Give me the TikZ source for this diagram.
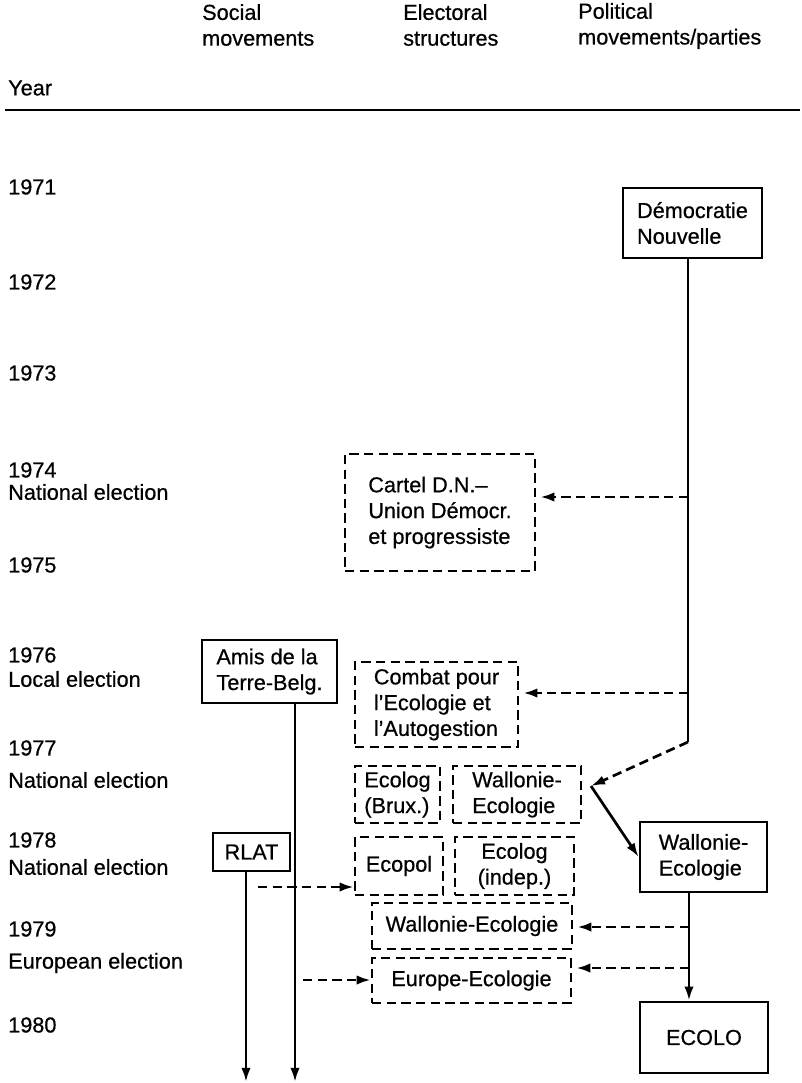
\documentclass[tikz,border=0pt]{standalone}
\usepackage{fontspec}
\setmainfont{Liberation Sans}[UprightFeatures={FakeBold=0.6}]
\usetikzlibrary{arrows.meta}

\begin{document}
\begin{tikzpicture}[x=0.03cm,y=-0.03cm,
	font=\fontsize{18.5}{22}\selectfont,
	every node/.style={inner sep=0pt},
	solidbox/.style={draw,line width=2.3pt,align=left},
	dashbox/.style={draw,line width=2.1pt,dash pattern=on 8pt off 4.5pt,align=left},
	flow/.style={line width=2.3pt,-{Latex[length=12pt,width=8pt]}},
	dashflow/.style={flow,dash pattern=on 8pt off 4.5pt,shorten >=1.2mm},
	yearlabel/.style={anchor=west}]
			\useasboundingbox (0,0) rectangle (801,1083);
			% column heads
			\node[anchor=west,align=left] (hsoc) at (202,25) {Social\\movements};
			\node[anchor=west,align=left] (hele) at (403,25) {Electoral\\structures};
			\node[anchor=west,align=left] (hpol) at (578,26) {Political\\movements/parties};
			\node[yearlabel] (hyear) at (8,88) {Year};
			\draw[line width=2.3pt] (5,110) -- (800,110);
			% years and elections
			\foreach \yy/\txt in {187/1971,282/1972,373/1973,470/1974,492/National election,565/1975,655/1976,679/Local election,748/1977,780/National election,840/1978,867/National election,929/1979,963/European election,1025/1980}
				\node[yearlabel] (yr\yy) at (8,\yy) {\txt};
			% boxes
			\node[solidbox,minimum width=4.17cm,minimum height=2.1cm] at (692.5,223) (DN) {D\'emocratie\\Nouvelle};
			\node[dashbox,minimum width=5.7cm,minimum height=3.51cm] at (440,512.5) (CDN) {Cartel D.N.--\\Union D\'emocr.\\et progressiste};
			\node[dashbox,minimum width=4.89cm,minimum height=2.55cm] at (436.5,704.5) (CEA) {Combat pour\\l'Ecologie et\\l'Autogestion};
			\node[solidbox,minimum width=4.05cm,minimum height=1.89cm] at (269.5,671.5) (ATB) {Amis de la\\Terre-Belg.};
			\node[dashbox,minimum width=2.55cm,minimum height=1.71cm] at (397.5,794.5) (EB) {Ecolog\\(Brux.)};
			\node[dashbox,minimum width=3.84cm,minimum height=1.71cm] at (517,794.5) (WE1) {Wallonie-\\Ecologie};
			\node[solidbox,minimum width=3.81cm,minimum height=2.1cm] at (703.5,857) (WE2) {Wallonie-\\Ecologie};
			\node[solidbox,minimum width=2.31cm,minimum height=1.14cm] at (251.5,852) (RL) {RLAT};
			\node[dashbox,minimum width=2.64cm,minimum height=1.74cm] at (399,866) (EP) {Ecopol};
			\node[dashbox,align=center,minimum width=3.57cm,minimum height=1.74cm] at (514.5,866) (EI) {Ecolog\\(indep.)};
			\node[dashbox,minimum width=6cm,minimum height=1.38cm] at (472,926) (WE3) {Wallonie-Ecologie};
			\node[dashbox,minimum width=5.97cm,minimum height=1.35cm] at (471.5,980.5) (EE) {Europe-Ecologie};
			\node[solidbox,minimum width=3.84cm,minimum height=2.13cm] at (704,1037.5) (EC) {ECOLO};
			% political trunk
			\coordinate (c1) at (688,742); \coordinate (sp) at (591,786);
			\coordinate (t1) at (688,497); \coordinate (t2) at (688,693);
			\draw[line width=2.3pt] (c1 |- DN.south) -- (c1);
			\draw[dashflow] (t1) -- (t1 -| CDN.east);
			\draw[dashflow] (t2) -- (t2 -| CEA.east);
			\draw[dashflow,shorten >=0pt] (c1) -- (sp);
			\draw[flow] (sp) -- (WE2.west);
			\coordinate (t3) at (689,927); \coordinate (t4) at (689,968);
			\draw[flow] (t3 |- WE2.south) -- (t3 |- EC.north);
			\draw[dashflow] (t3) -- (t3 -| WE3.east);
			\draw[dashflow] (t4) -- (t4 -| EE.east);
			% social trunks
			\coordinate (r0) at (246,1082); \coordinate (r1) at (258,887);
			\coordinate (a0) at (295,1082); \coordinate (a1) at (303,980);
			\draw[flow] (r0 |- RL.south) -- (r0);
			\draw[flow] (a0 |- ATB.south) -- (a0);
			\draw[dashflow,shorten >=0pt] (r1) -- (r1 -| EP.west);
			\draw[dashflow,shorten >=0pt] (a1) -- (a1 -| EE.west);
\end{tikzpicture}
\end{document}
